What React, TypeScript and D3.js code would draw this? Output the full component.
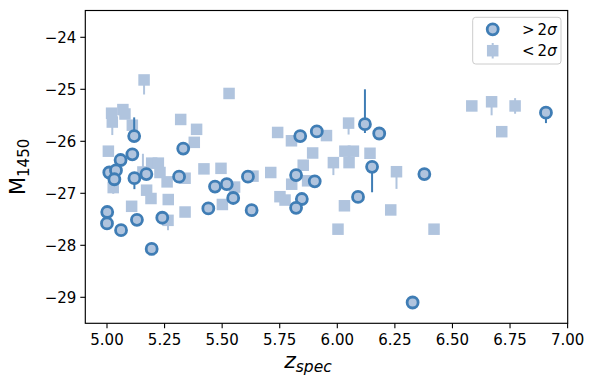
import React from "react";
import * as d3 from "d3";

// >2σ detections (circles)
const circleZ = [5.118, 5.110, 5.059, 5.331, 5.839, 5.911, 6.120, 6.182, 6.906, 5.010, 5.039, 5.032, 5.119, 5.171, 5.313, 5.469, 5.520, 5.548, 5.440, 5.612, 5.628, 5.821, 5.902, 5.846, 5.821, 5.001, 5.000, 5.061, 5.130, 5.240, 5.194, 6.151, 6.378, 6.090, 6.327];
const circleM = [-25.90, -26.25, -26.36, -26.14, -25.90, -25.81, -25.67, -25.85, -25.45, -26.60, -26.56, -26.73, -26.71, -26.63, -26.68, -26.87, -26.825, -27.09, -27.29, -26.68, -27.325, -26.65, -26.77, -27.11, -27.28, -27.36, -27.58, -27.71, -27.51, -27.47, -28.07, -26.49, -26.63, -27.07, -29.10];
const circleErrLo = [0.08, 0, 0, 0, 0, 0, 0.17, 0, 0.20, 0, 0, 0, 0.21, 0, 0, 0, 0, 0, 0, 0, 0, 0, 0, 0, 0, 0, 0, 0, 0, 0, 0, 0.49, 0, 0, 0];
const circleErrHi = [0.36, 0, 0, 0, 0, 0, 0.67, 0, 0.05, 0, 0, 0, 0, 0, 0, 0, 0, 0, 0, 0, 0, 0, 0, 0, 0, 0, 0, 0, 0, 0, 0, 0, 0, 0, 0];

// <2σ (squares)
const squareZ = [5.161, 5.530, 5.020, 5.069, 5.078, 5.023, 5.110, 5.320, 5.389, 5.379, 5.006, 5.741, 5.801, 5.953, 6.049, 5.893, 6.033, 6.070, 6.142, 5.983, 6.051, 6.257, 5.852, 5.711, 5.634, 5.495, 5.421, 5.554, 5.501, 5.802, 5.871, 5.751, 5.773, 6.031, 6.232, 6.003, 6.420, 5.194, 5.223, 5.230, 5.261, 5.027, 5.172, 5.191, 5.266, 5.339, 5.107, 5.339, 5.265, 6.584, 6.670, 6.772, 6.714, 5.156];
const squareM = [-24.82, -25.08, -25.46, -25.39, -25.475, -25.63, -25.69, -25.58, -25.77, -26.02, -26.19, -25.83, -25.99, -25.89, -25.65, -26.225, -26.19, -26.19, -26.23, -26.41, -26.41, -26.585, -26.46, -26.60, -26.67, -26.52, -26.53, -26.88, -27.215, -26.825, -26.76, -27.065, -27.13, -27.24, -27.32, -27.69, -27.69, -26.42, -26.42, -26.60, -26.78, -26.89, -26.94, -27.10, -27.12, -26.71, -27.25, -27.36, -27.52, -25.32, -25.24, -25.32, -25.815, -26.59];
const squareErrLo = [0.28, 0, 0, 0, 0, 0.25, 0, 0, 0, 0, 0, 0, 0, 0.05, 0.22, 0, 0, 0, 0, 0.24, 0, 0.33, 0, 0, 0, 0, 0, 0, 0, 0, 0, 0, 0, 0, 0, 0, 0, 0, 0, 0, 0, 0.12, 0, 0, 0, 0, 0, 0, 0.19, 0, 0.26, 0.15, 0, 0];
const squareErrHi = [0, 0, 0, 0, 0, 0, 0, 0, 0, 0, 0, 0, 0, 0.05, 0, 0, 0, 0, 0, 0, 0, 0, 0, 0, 0, 0, 0, 0, 0, 0, 0, 0, 0, 0, 0, 0, 0, 0, 0.09, 0, 0, 0, 0, 0, 0, 0, 0, 0, 0, 0, 0.05, 0.15, 0, 0.35];

const xTicks = [5.0, 5.25, 5.5, 5.75, 6.0, 6.25, 6.5, 6.75, 7.0];
const yTicks = [-24, -25, -26, -27, -28, -29];
const legendLabels = [">", "<"];

const W = 598, H = 390;
const L = 85.3, R = 567.7, T = 10.5, B = 323.3;
const DARK = "#3f7db5";
const LIGHT = "#b0c4de";
const FONT = "DejaVu Sans";

export default function App() {
  const x = d3.scaleLinear().domain([4.9058, 7.0004]).range([L, R]);
  const y = d3.scaleLinear().domain([-29.5, -23.4846]).range([B, T]);
  const fmt = d3.format(".2f");
  const sq = 11.5;
  return (
    <svg width={W} height={H} style={{ position: "absolute", left: 0, top: 0 }} fontFamily={FONT}>
      <rect x={0} y={0} width={W} height={H} fill="white" />
      {/* squares */}
      <g>
        {squareZ.map((z, i) => (
          <g key={"s" + i}>
            {(squareErrLo[i] > 0 || squareErrHi[i] > 0) && (
              <line x1={x(z)} x2={x(z)} y1={y(squareM[i] - squareErrLo[i])} y2={y(squareM[i] + squareErrHi[i])} stroke={LIGHT} strokeWidth={2} />
            )}
            <rect x={x(z) - sq / 2} y={y(squareM[i]) - sq / 2} width={sq} height={sq} fill={LIGHT} />
          </g>
        ))}
      </g>
      {/* circles */}
      <g>
        {circleZ.map((z, i) => (
          <g key={"c" + i}>
            {(circleErrLo[i] > 0 || circleErrHi[i] > 0) && (
              <line x1={x(z)} x2={x(z)} y1={y(circleM[i] - circleErrLo[i])} y2={y(circleM[i] + circleErrHi[i])} stroke={DARK} strokeWidth={2} />
            )}
            <circle cx={x(z)} cy={y(circleM[i])} r={5.5} fill={LIGHT} stroke={DARK} strokeWidth={2.8} />
          </g>
        ))}
      </g>
      {/* frame */}
      <rect x={L} y={T} width={R - L} height={B - T} fill="none" stroke="black" strokeWidth={1.15} />
      {/* x ticks */}
      {xTicks.map((t) => (
        <g key={"xt" + t}>
          <line x1={x(t)} x2={x(t)} y1={B} y2={B + 5} stroke="black" strokeWidth={1.1} />
          <text x={x(t)} y={B + 22} fontSize={15} textAnchor="middle">{fmt(t)}</text>
        </g>
      ))}
      {/* y ticks */}
      {yTicks.map((t) => (
        <g key={"yt" + t}>
          <line x1={L - 5} x2={L} y1={y(t)} y2={y(t)} stroke="black" strokeWidth={1.1} />
          <text x={L - 9} y={y(t) + 5.4} fontSize={15} textAnchor="end">{"\u2212" + Math.abs(t)}</text>
        </g>
      ))}
      {/* axis labels */}
      <text x={308} y={368} fontSize={22} textAnchor="middle">
        <tspan fontStyle="italic">z</tspan>
        <tspan fontStyle="italic" fontSize={15.5} dy={4}>spec</tspan>
      </text>
      <text transform={`translate(25,${(T + B) / 2}) rotate(-90)`} fontSize={21} textAnchor="middle">
        <tspan>M</tspan>
        <tspan fontSize={15} dy={4}>1450</tspan>
      </text>
      {/* legend */}
      <g>
        <rect x={472.7} y={17.3} width={88.3} height={46.7} rx={3} fill="white" fillOpacity={0.8} stroke="#cccccc" strokeWidth={1} />
        <circle cx={492.7} cy={29.3} r={5.5} fill={LIGHT} stroke={DARK} strokeWidth={2.8} />
        <line x1={492.7} x2={492.7} y1={43} y2={58.5} stroke={LIGHT} strokeWidth={2} />
        <rect x={492.7 - sq / 2} y={50.7 - sq / 2} width={sq} height={sq} fill={LIGHT} />
        {legendLabels.map((s, i) => (
          <text key={"lg" + i} x={522} y={35 + i * 21.4} fontSize={15}>
            <tspan>{s}</tspan>
            <tspan dx={3}>2</tspan>
            <tspan fontStyle="italic">σ</tspan>
          </text>
        ))}
      </g>
    </svg>
  );
}
